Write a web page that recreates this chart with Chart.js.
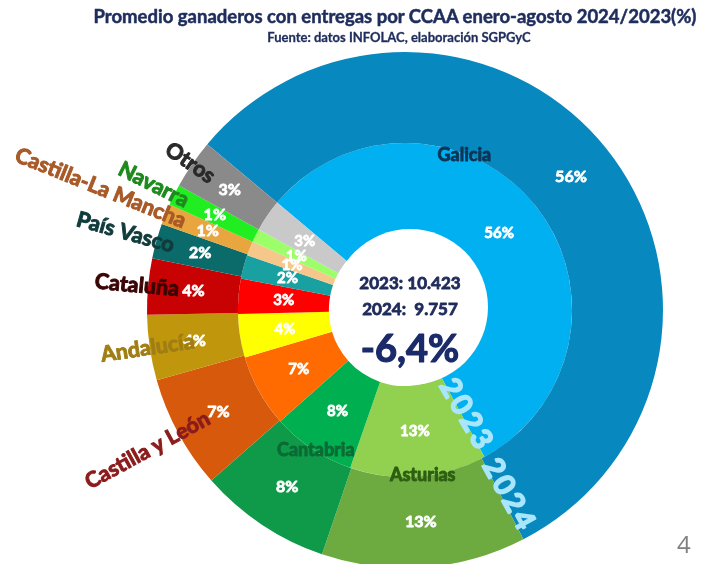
<!DOCTYPE html>
<html>
<head>
<meta charset="utf-8">
<script src="https://cdn.jsdelivr.net/npm/chart.js@4"></script>
<style>
  body { margin: 0; width: 706px; height: 564px; overflow: hidden; background: #fff; position: relative; font-family: Lato, "Open Sans", sans-serif; }
  #titulo { position: absolute; top: 5px; left: 0; width: 790px; text-align: center; font-weight: bold; font-size: 18.5px; color: #1f2d5c; white-space: nowrap; -webkit-text-stroke: 0.5px #1f2d5c; }
  #fuente { position: absolute; top: 29px; left: 8px; width: 782px; text-align: center; font-weight: bold; font-size: 13px; color: #1f2d5c; white-space: nowrap; -webkit-text-stroke: 0.3px #1f2d5c; }
  #pagina { position: absolute; top: 527px; left: 677px; font-size: 24px; color: #808080; font-family: "Open Sans", sans-serif; }
  canvas { position: absolute; top: 0; left: 0; }
</style>
</head>
<body>
<canvas id="grafica" width="706" height="580"></canvas>
<div id="titulo">Promedio ganaderos con entregas por CCAA enero-agosto 2024/2023(%)</div>
<div id="fuente">Fuente: datos INFOLAC, elaboración SGPGyC</div>
<div id="pagina">4</div>
<script>
// datos
const ccaa = ['Galicia', 'Asturias', 'Cantabria', 'Castilla y León', 'Andalucía', 'Cataluña', 'País Vasco', 'Castilla-La Mancha', 'Navarra', 'Otros'];
const pct2024 = [56.3, 12.8, 8.3, 7.1, 4.1, 3.5, 2.2, 1.3, 1.3, 3.1];
const pct2023 = [56.0, 13.2, 8.1, 7.0, 4.2, 3.4, 2.3, 1.4, 1.3, 3.1];
const years = ['2024', '2023'];
const totales = ['2023: 10.423', '2024:  9.757'];
const variacion = '-6,4%';

// colores
const col2024 = ['#0788bf', '#6dab41', '#0f9a49', '#d75a0c', '#bf960c', '#c80202', '#0b6b6b', '#e9a53e', '#20ee20', '#8a8a8a'];
const col2023 = ['#00b0f0', '#92d050', '#00b050', '#ff6b00', '#ffff00', '#ff0000', '#19a0a0', '#f5c78a', '#9cff6a', '#c9c9c9'];
const colNombre = ['#0d3557', '#2e5e12', '#0b6b35', '#8b1c1c', '#a07e14', '#3a0505', '#123c3c', '#a85a28', '#1e8a1e', '#2a2a2a'];

const FUENTE = 'Lato, "Open Sans", sans-serif';

// texto "engordado" (la fuente original es mas negra)
function texto(ctx, s, x, y, grosor) {
  ctx.fillText(s, x, y);
  ctx.lineWidth = grosor;
  ctx.strokeStyle = ctx.fillStyle;
  ctx.lineJoin = 'round';
  ctx.strokeText(s, x, y);
}

// etiquetas: porcentajes, nombres y texto central
const etiquetas = {
  id: 'etiquetas',
  afterDatasetsDraw(chart) {
    const ctx = chart.ctx;
    const outer = chart.getDatasetMeta(0).data;
    const inner = chart.getDatasetMeta(1).data;
    const cx = outer[0].x, cy = outer[0].y;

    // circulo blanco central
    ctx.save();
    ctx.fillStyle = '#fff';
    ctx.beginPath();
    ctx.arc(cx + 5, cy - 3, 78, 0, Math.PI * 2);
    ctx.fill();
    ctx.restore();

    // rotulos de anillo 2023 / 2024
    [inner, outer].forEach((arcs, k) => {
      const a = arcs[0];
      const ang = a.endAngle - 0.035;
      const r = (a.innerRadius + a.outerRadius) / 2;
      ctx.save();
      ctx.translate(a.x + r * Math.cos(ang), a.y + r * Math.sin(ang));
      ctx.rotate(ang);
      ctx.fillStyle = '#a9e6fb';
      ctx.font = 'bold 29px ' + FUENTE;
      ctx.letterSpacing = '3px';
      ctx.textAlign = 'center';
      ctx.textBaseline = 'middle';
      texto(ctx, years[1 - k], 0, 0, 1.6);
      ctx.restore();
    });

    // porcentajes
    [outer, inner].forEach((arcs, d) => {
      const valores = d === 0 ? pct2024 : pct2023;
      arcs.forEach((a, i) => {
        const ang = (a.startAngle + a.endAngle) / 2;
        const r = (a.innerRadius + a.outerRadius) / 2;
        ctx.save();
        ctx.fillStyle = '#fff';
        ctx.font = (d === 0 ? 'bold 16px ' : 'bold 15px ') + FUENTE;
        ctx.textAlign = 'center';
        ctx.textBaseline = 'middle';
        texto(ctx, Math.round(valores[i]) + '%', a.x + r * Math.cos(ang), a.y + r * Math.sin(ang), 0.8);
        ctx.restore();
      });
    });

    // nombres horizontales (Galicia, Asturias, Cantabria)
    const frac = [0.35, 0.46, 0.46];
    for (let i = 0; i < 3; i++) {
      const a = outer[i];
      const ang = a.startAngle + (a.endAngle - a.startAngle) * frac[i];
      const r = a.innerRadius - 1;
      ctx.save();
      ctx.fillStyle = colNombre[i];
      ctx.font = 'bold 18px ' + FUENTE;
      ctx.textAlign = 'center';
      ctx.textBaseline = 'middle';
      texto(ctx, ccaa[i], a.x + r * Math.cos(ang), a.y + r * Math.sin(ang), 0.9);
      ctx.restore();
    }

    // nombres radiales a la izquierda
    const finR = [0, 0, 0, 224, 213, 227, 240, 237, 243, 233];
    for (let i = 3; i < ccaa.length; i++) {
      const a = outer[i];
      const ang = (a.startAngle + a.endAngle) / 2;
      ctx.save();
      ctx.translate(a.x + finR[i] * Math.cos(ang), a.y + finR[i] * Math.sin(ang));
      ctx.rotate(ang + Math.PI);
      ctx.fillStyle = colNombre[i];
      ctx.font = 'bold 21.5px ' + FUENTE;
      ctx.textAlign = 'right';
      ctx.textBaseline = 'middle';
      texto(ctx, ccaa[i], 0, 0, 1);
      ctx.restore();
    }

    // texto central
    ctx.save();
    ctx.fillStyle = '#1f2b5a';
    ctx.textAlign = 'center';
    ctx.textBaseline = 'middle';
    ctx.font = 'bold 17px ' + FUENTE;
    texto(ctx, totales[0], cx + 5, cy - 26, 0.8);
    texto(ctx, totales[1], cx + 5, cy, 0.8);
    ctx.fillStyle = '#1a2a6a';
    ctx.font = 'bold 38px ' + FUENTE;
    texto(ctx, variacion, cx + 5, cy + 40, 1.2);
    ctx.restore();
  }
};

const chart = new Chart(document.getElementById('grafica'), {
  type: 'doughnut',
  data: {
    labels: ccaa,
    datasets: [
      { label: years[0], data: pct2024, backgroundColor: col2024, borderWidth: 0 },
      { label: years[1], data: pct2023, backgroundColor: col2023, borderWidth: 0 }
    ]
  },
  options: {
    responsive: false,
    animation: false,
    rotation: -50,
    cutout: '29.5%',
    layout: { padding: { left: 147, right: 43, top: 52, bottom: 12 } },
    plugins: {
      legend: { display: false },
      tooltip: { enabled: false }
    }
  },
  plugins: [etiquetas]
});
</script>
</body>
</html>
